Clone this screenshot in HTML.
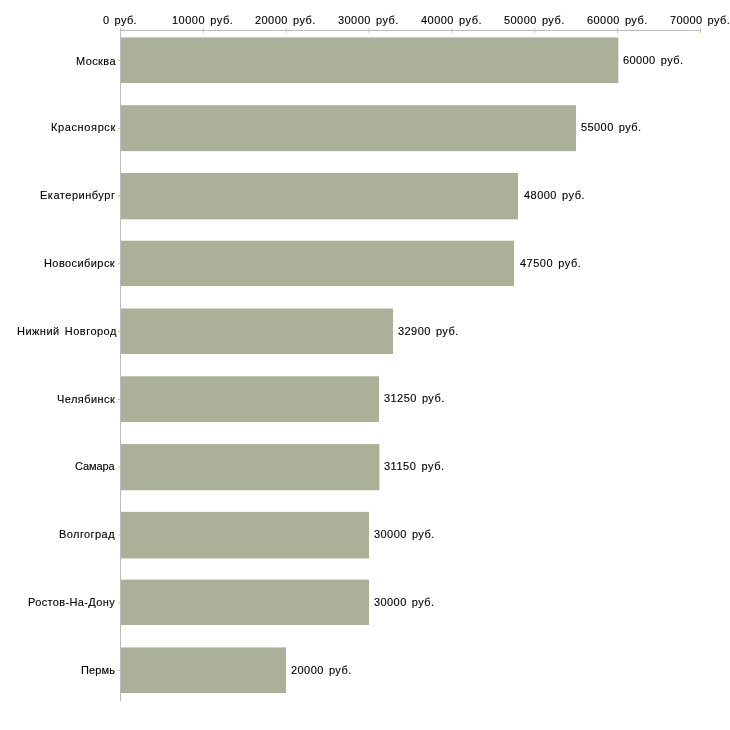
<!DOCTYPE html>
<html lang="ru"><head><meta charset="utf-8"><title>chart</title>
<style>
html,body{margin:0;padding:0;background:#fff;}
body{width:730px;height:730px;position:relative;overflow:hidden;font-family:"Liberation Sans",sans-serif;font-size:11px;color:#000;}
.t{position:absolute;white-space:nowrap;line-height:14px;height:14px;will-change:transform;-webkit-text-stroke:0.12px #000;word-spacing:1.7px;}
</style></head><body>
<svg width="730" height="730" viewBox="0 0 730 730" style="position:absolute;left:0;top:0">
<rect x="120" y="30" width="581" height="1" fill="#bbbbbb"/>
<rect x="120.00" y="28" width="1" height="5" fill="#c8c89a"/>
<rect x="202.86" y="28" width="1" height="5" fill="#c8c89a"/>
<rect x="285.71" y="28" width="1" height="5" fill="#c8c89a"/>
<rect x="368.57" y="28" width="1" height="5" fill="#c8c89a"/>
<rect x="451.43" y="28" width="1" height="5" fill="#c8c89a"/>
<rect x="534.29" y="28" width="1" height="5" fill="#c8c89a"/>
<rect x="617.14" y="28" width="1" height="5" fill="#c8c89a"/>
<rect x="700.00" y="28" width="1" height="5" fill="#c8c89a"/>
<rect x="120" y="30" width="1" height="671" fill="#bbbbbb"/>
<rect x="118" y="60.00" width="3" height="1" fill="#c8c89a"/>
<rect x="118" y="127.78" width="3" height="1" fill="#c8c89a"/>
<rect x="118" y="195.56" width="3" height="1" fill="#c8c89a"/>
<rect x="118" y="263.33" width="3" height="1" fill="#c8c89a"/>
<rect x="118" y="331.11" width="3" height="1" fill="#c8c89a"/>
<rect x="118" y="398.89" width="3" height="1" fill="#c8c89a"/>
<rect x="118" y="466.67" width="3" height="1" fill="#c8c89a"/>
<rect x="118" y="534.44" width="3" height="1" fill="#c8c89a"/>
<rect x="118" y="602.22" width="3" height="1" fill="#c8c89a"/>
<rect x="118" y="670.00" width="3" height="1" fill="#c8c89a"/>
<rect x="121" y="37.41" width="497.36" height="45.59" fill="#abb098"/>
<rect x="121" y="105.19" width="455.00" height="45.94" fill="#abb098"/>
<rect x="121" y="172.96" width="397.00" height="46.39" fill="#abb098"/>
<rect x="121" y="240.74" width="393.00" height="45.26" fill="#abb098"/>
<rect x="121" y="308.52" width="272.00" height="45.48" fill="#abb098"/>
<rect x="121" y="376.30" width="258.00" height="45.72" fill="#abb098"/>
<rect x="121" y="444.07" width="258.40" height="46.17" fill="#abb098"/>
<rect x="121" y="511.85" width="248.00" height="46.61" fill="#abb098"/>
<rect x="121" y="579.63" width="248.00" height="45.37" fill="#abb098"/>
<rect x="121" y="647.41" width="165.00" height="45.59" fill="#abb098"/>
</svg>
<div class="t" style="left:76.00px;top:54px;letter-spacing:0.40px">Москва</div>
<div class="t" style="left:51.00px;top:120px;letter-spacing:0.62px">Красноярск</div>
<div class="t" style="left:40.00px;top:188px;letter-spacing:0.52px">Екатеринбург</div>
<div class="t" style="left:44.00px;top:256px;letter-spacing:0.42px">Новосибирск</div>
<div class="t" style="left:17.00px;top:324px;letter-spacing:0.47px">Нижний Новгород</div>
<div class="t" style="left:57.00px;top:392px;letter-spacing:0.43px">Челябинск</div>
<div class="t" style="left:75.00px;top:459px;letter-spacing:-0.10px">Самара</div>
<div class="t" style="left:59.00px;top:527px;letter-spacing:0.42px">Волгоград</div>
<div class="t" style="left:28.00px;top:595px;letter-spacing:0.36px">Ростов-На-Дону</div>
<div class="t" style="left:81.00px;top:663px;letter-spacing:0.16px">Пермь</div>
<div class="t" style="left:623.00px;top:53px;letter-spacing:0.41px">60000 руб.</div>
<div class="t" style="left:581.00px;top:120px;letter-spacing:0.42px">55000 руб.</div>
<div class="t" style="left:524.00px;top:188px;letter-spacing:0.46px">48000 руб.</div>
<div class="t" style="left:520.00px;top:256px;letter-spacing:0.49px">47500 руб.</div>
<div class="t" style="left:398.00px;top:324px;letter-spacing:0.43px">32900 руб.</div>
<div class="t" style="left:384.00px;top:391px;letter-spacing:0.43px">31250 руб.</div>
<div class="t" style="left:384.00px;top:459px;letter-spacing:0.50px">31150 руб.</div>
<div class="t" style="left:374.00px;top:527px;letter-spacing:0.43px">30000 руб.</div>
<div class="t" style="left:374.00px;top:595px;letter-spacing:0.42px">30000 руб.</div>
<div class="t" style="left:291.00px;top:663px;letter-spacing:0.43px">20000 руб.</div>
<div class="t" style="left:103.00px;top:13px;letter-spacing:0.36px">0 руб.</div>
<div class="t" style="left:172.00px;top:13px;letter-spacing:0.49px">10000 руб.</div>
<div class="t" style="left:255.00px;top:13px;letter-spacing:0.44px">20000 руб.</div>
<div class="t" style="left:338.00px;top:13px;letter-spacing:0.44px">30000 руб.</div>
<div class="t" style="left:421.00px;top:13px;letter-spacing:0.46px">40000 руб.</div>
<div class="t" style="left:504.00px;top:13px;letter-spacing:0.43px">50000 руб.</div>
<div class="t" style="left:587.00px;top:13px;letter-spacing:0.43px">60000 руб.</div>
<div class="t" style="left:670.00px;top:13px;letter-spacing:0.38px">70000 руб.</div>
</body></html>
